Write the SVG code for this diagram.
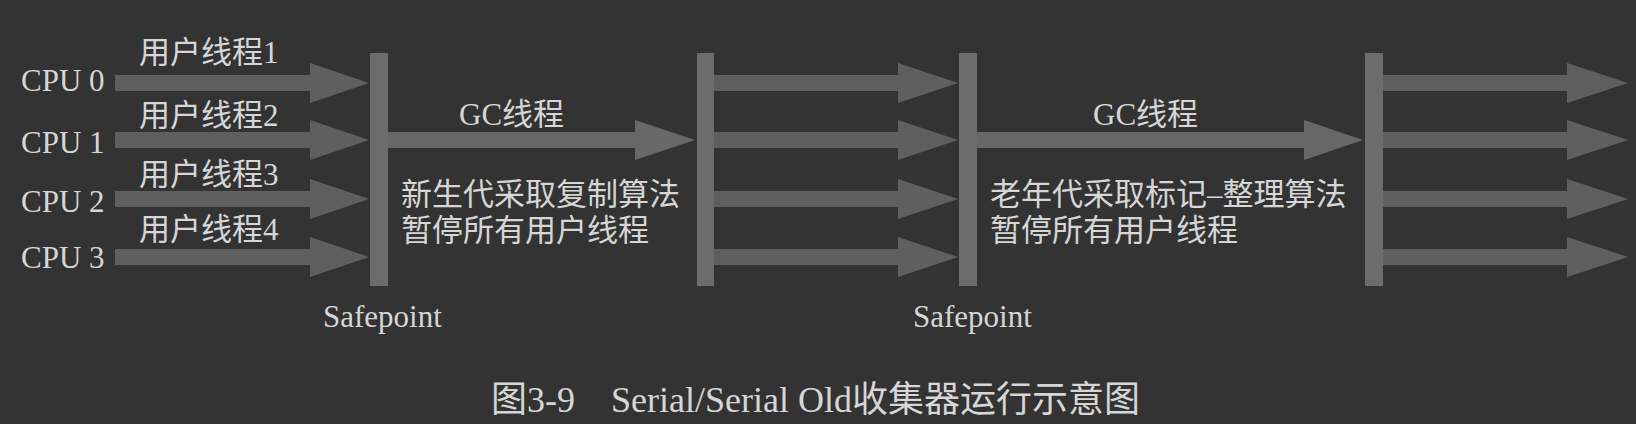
<svg xmlns="http://www.w3.org/2000/svg" width="1636" height="424" viewBox="0 0 1636 424">
<style>
.t{font-family:"Liberation Serif","Noto Sans CJK SC",serif;font-size:31px;fill:#d6d6d6}
.cap{font-family:"Liberation Serif","Noto Sans CJK SC",serif;font-size:36px;fill:#d6d6d6}
.bar{fill:#6c6c6c}
.ua{fill:#5f5f5f}
.ga{fill:#686868}
</style>
<rect width="1636" height="424" fill="#333333"/>
<g id="connectors">
<polygon class="ua" points="115,75 310,75 310,63 369,83 310,103 310,91 115,91"/>
<polygon class="ua" points="115,132 310,132 310,120 369,140 310,160 310,148 115,148"/>
<polygon class="ua" points="115,191 310,191 310,179 369,199 310,219 310,207 115,207"/>
<polygon class="ua" points="115,249 310,249 310,237 369,257 310,277 310,265 115,265"/>
<polygon class="ga" points="388,132 635,132 635,120 695,140 635,160 635,148 388,148"/>
<polygon class="ua" points="713,75 898,75 898,63 958,83 898,103 898,91 713,91"/>
<polygon class="ua" points="713,132 898,132 898,120 958,140 898,160 898,148 713,148"/>
<polygon class="ua" points="713,191 898,191 898,179 958,199 898,219 898,207 713,207"/>
<polygon class="ua" points="713,249 898,249 898,237 958,257 898,277 898,265 713,265"/>
<polygon class="ga" points="977,132 1304,132 1304,120 1363,140 1304,160 1304,148 977,148"/>
<polygon class="ua" points="1383,75 1567,75 1567,63 1628,83 1567,103 1567,91 1383,91"/>
<polygon class="ua" points="1383,132 1567,132 1567,120 1628,140 1567,160 1567,148 1383,148"/>
<polygon class="ua" points="1383,191 1567,191 1567,179 1628,199 1567,219 1567,207 1383,207"/>
<polygon class="ua" points="1383,249 1567,249 1567,237 1628,257 1567,277 1567,265 1383,265"/>
</g>
<g id="cpus">
<text class="t" x="21" y="91">CPU 0</text>
<text class="t" x="21" y="153">CPU 1</text>
<text class="t" x="21" y="212">CPU 2</text>
<text class="t" x="21" y="268">CPU 3</text>
</g>
<g id="user-threads">
<text class="t" x="139" y="63">用户线程1</text>
<text class="t" x="139" y="126">用户线程2</text>
<text class="t" x="139" y="185">用户线程3</text>
<text class="t" x="139" y="240">用户线程4</text>
</g>
<g id="safepoint1">
<rect class="bar" x="370" y="53" width="18" height="233"/>
<text class="t" x="323" y="327">Safepoint</text>
</g>
<g id="bar2">
<rect class="bar" x="697" y="53" width="17" height="233"/>
</g>
<g id="safepoint2">
<rect class="bar" x="959" y="53" width="18" height="233"/>
<text class="t" x="913" y="327">Safepoint</text>
</g>
<g id="bar4">
<rect class="bar" x="1365" y="53" width="18" height="233"/>
</g>
<g id="gc1">
<text class="t" x="459" y="125">GC线程</text>
<text class="t" x="401" y="205">新生代采取复制算法</text>
<text class="t" x="401" y="241">暂停所有用户线程</text>
</g>
<g id="gc2">
<text class="t" x="1093" y="125">GC线程</text>
<text class="t" x="990" y="205">老年代采取标记–整理算法</text>
<text class="t" x="990" y="241">暂停所有用户线程</text>
</g>
<g id="caption">
<text class="cap" x="491" y="412">图3-9</text>
<text class="cap" x="611" y="412">Serial/Serial Old收集器运行示意图</text>
</g>
</svg>
